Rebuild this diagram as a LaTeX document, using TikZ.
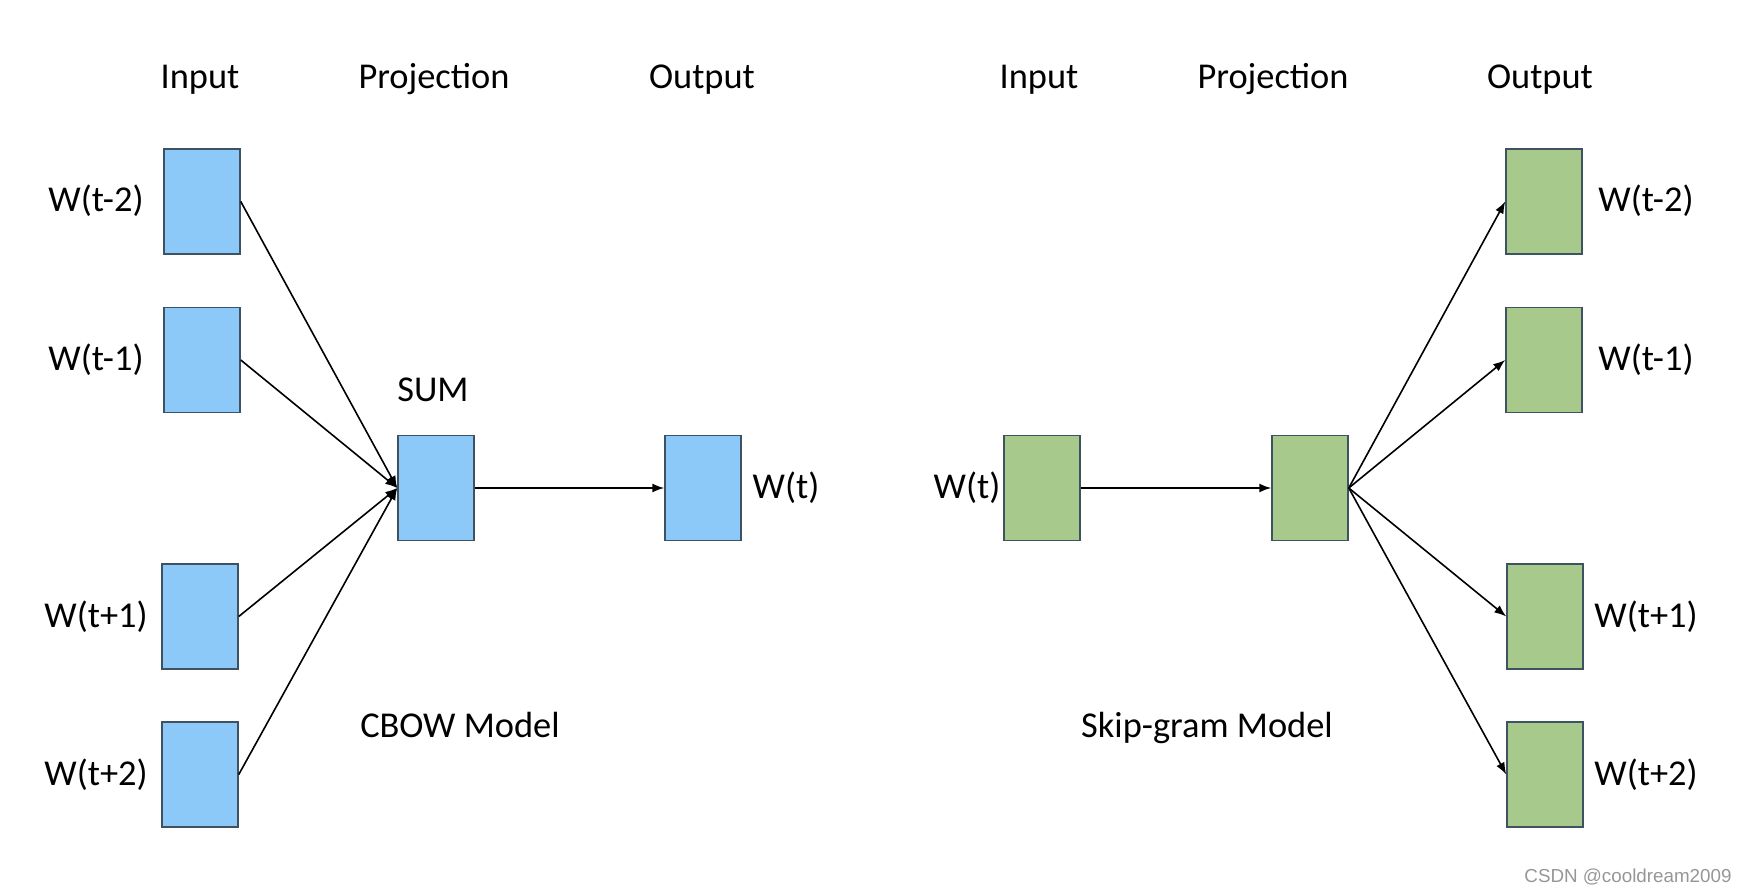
\documentclass[tikz,border=0pt]{standalone}
\usepackage{fontspec}
\setmainfont{Carlito}
\newfontfamily\markfont{Liberation Sans}
\usetikzlibrary{arrows.meta}
\definecolor{cbowblue}{RGB}{140,201,248}
\definecolor{skipgreen}{RGB}{168,201,140}
\definecolor{boxline}{RGB}{62,82,98}
\definecolor{markgray}{RGB}{150,150,150}

\tikzset{
  vec/.style={draw=boxline, line width=0.75pt, minimum width=38pt, minimum height=52.5pt, inner sep=0pt},
  link/.style={-{Latex[length=6pt,width=4.5pt]}, line width=0.8pt},
  lbl/.style={font=\fontsize{18.2}{22}\selectfont, inner sep=0pt, anchor=base}
}

\begin{document}
\begin{tikzpicture}[x=0.5pt, y=-0.5pt]
  \useasboundingbox (0,0) rectangle (1744,892);
  % column heads
  \node[lbl] (headin1) at (200,89) {Input};
  \node[lbl] (headproj1) at (434,89) {Projection};
  \node[lbl] (headout1) at (702,89) {Output};
  \node[lbl] (headin2) at (1039,89) {Input};
  \node[lbl] (headproj2) at (1273,89) {Projection};
  \node[lbl] (headout2) at (1540,89) {Output};

  % CBOW
  \node[vec, fill=cbowblue] (sum) at (436,488) {};
  \node[lbl] (sumlbl) at (433,402) {SUM};
  \node[vec, fill=cbowblue] (cout) at (703,488) {};
  \node[lbl] (coutlbl) at (786,498.5) {W(t)};
  \draw[link] (sum.east) -- (cout.west);
  \foreach \X/\Y/\Txt [count=\i] in {202/201.5/W(t-2), 202/360/W(t-1), 200/616.5/W(t+1), 200/774.5/W(t+2)} {
    \node[vec, fill=cbowblue] (cin\i) at (\X,\Y) {};
    \node[lbl] (cinlbl\i) at (96,\Y+10.5) {\Txt};
    \draw[link] (cin\i.east) -- (sum.west);
  }
  \node[lbl] (cbowname) at (460,737) {CBOW Model};

  % Skip-gram
  \node[vec, fill=skipgreen] (sin) at (1042,488) {};
  \node[lbl] (sinlbl) at (967,498.5) {W(t)};
  \node[vec, fill=skipgreen] (proj) at (1310,488) {};
  \draw[link] (sin.east) -- (proj.west);
  \foreach \X/\Y/\Txt [count=\i] in {1544/201.5/W(t-2), 1544/360/W(t-1), 1545/616.5/W(t+1), 1545/774.5/W(t+2)} {
    \node[vec, fill=skipgreen] (sout\i) at (\X,\Y) {};
    \node[lbl] (soutlbl\i) at (1646,\Y+10.5) {\Txt};
    \draw[link] (proj.east) -- (sout\i.west);
  }
  \node[lbl] (skipname) at (1207,737) {Skip-gram Model};

  \node[font=\markfont\fontsize{9.4}{12}\selectfont, text=markgray, inner sep=0pt, anchor=base] (mark) at (1628,882) {CSDN @cooldream2009};
\end{tikzpicture}
\end{document}
